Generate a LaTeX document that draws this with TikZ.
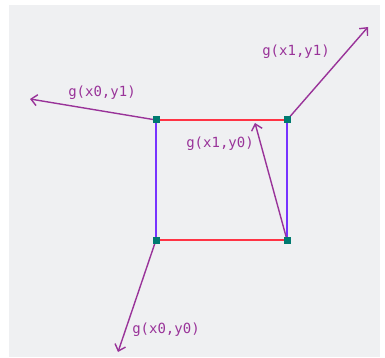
\documentclass[tikz,border=0pt]{standalone}
\usepackage{fontspec}
\setmonofont{DejaVu Sans Mono}
\usetikzlibrary{arrows.meta}
\definecolor{bgc}{HTML}{EFF0F2}
\definecolor{arrc}{HTML}{993399}
\definecolor{redc}{HTML}{FF3344}
\definecolor{bluec}{HTML}{7733FF}
\definecolor{sqc}{HTML}{007A70}
\begin{document}
\begin{tikzpicture}[x=1pt,y=-1pt,
  corner/.style={fill=sqc,minimum size=7pt,inner sep=0pt,outer sep=0pt},
  grad/.style={draw=arrc,line width=1.4pt,-{Straight Barb[length=6pt,width=11pt,line width=1.4pt]}},
  redline/.style={draw=redc,line width=1.5pt},
  blueline/.style={draw=bluec,line width=1.5pt},
  lbl/.style={text=arrc,font=\ttfamily\fontsize{14}{15}\selectfont,inner sep=0pt}]
\useasboundingbox (0,0) rectangle (385,358);
\fill[white] (0,0) rectangle (385,358);
\fill[bgc] (9,5) rectangle (380,357);
\coordinate (tl) at (156,120);
\coordinate (tr) at (287,120);
\coordinate (bl) at (156,240);
\coordinate (br) at (287,240);
\coordinate (e1) at (30,99);
\coordinate (e2) at (368,27);
\coordinate (e3) at (255,123);
\coordinate (e4) at (118,352);
\draw[redline] (tl) -- (tr);
\draw[redline] (bl) -- (br);
\draw[blueline] (tl) -- (bl);
\draw[blueline] (tr) -- (br);
\draw[grad] (tl) -- (e1);
\draw[grad] (tr) -- (e2);
\draw[grad] (br) -- (e3);
\draw[grad] (bl) -- (e4);
\node[corner] (ctl) at (tl) {};
\node[corner] (ctr) at (tr) {};
\node[corner] (cbl) at (bl) {};
\node[corner] (cbr) at (br) {};
\node[lbl] (l1) at (296,52) {g(x1,y1)};
\node[lbl] (l2) at (102,93) {g(x0,y1)};
\node[lbl] (l3) at (220,144) {g(x1,y0)};
\node[lbl] (l4) at (166,330) {g(x0,y0)};
\end{tikzpicture}
\end{document}
